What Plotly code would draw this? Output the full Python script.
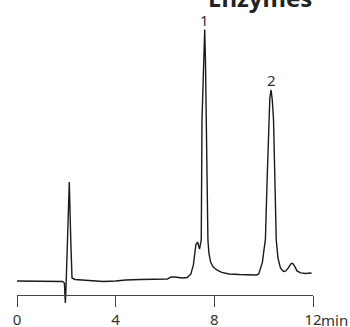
import plotly.graph_objects as go

# Retention time (min) and detector signal (arbitrary units)
time = [0.0, 1.0, 1.85, 1.92, 1.96, 1.99, 2.05, 2.12, 2.18, 2.23, 2.35, 2.6, 3.0, 3.5,
        4.0, 4.4, 5.0, 5.5, 6.1, 6.25, 6.4, 6.7, 6.9, 7.05, 7.15, 7.25, 7.32, 7.40,
        7.47, 7.50, 7.55, 7.61, 7.64, 7.67, 7.74, 7.78, 7.85, 7.95, 8.1, 8.3, 8.6,
        9.0, 9.4, 9.7, 9.8, 9.86, 9.95, 10.0, 10.07, 10.14, 10.2, 10.25, 10.30,
        10.35, 10.4, 10.46, 10.51, 10.58, 10.68, 10.8, 10.9, 11.0, 11.1, 11.17,
        11.25, 11.35, 11.5, 11.7, 11.94]
signal = [0.0, 0.0, -0.2, -0.8, -8.7, -1.6, 20.3, 39.3, 16.3, 1.2, 0.6, 0.4, 0.0, -0.2,
          0.0, 0.4, 0.6, 0.6, 0.8, 1.6, 1.6, 1.2, 1.4, 2.8, 6.4, 14.3, 15.5, 12.7,
          16.3, 64.0, 83.8, 99.9, 87.8, 64.0, 16.3, 11.1, 7.5, 5.6, 4.4, 3.4, 2.8,
          2.6, 2.4, 2.4, 2.8, 4.4, 7.5, 11.5, 16.3, 40.1, 64.0, 72.7, 75.9,
          71.9, 64.0, 40.1, 16.3, 9.1, 5.2, 3.8, 4.0, 5.2, 6.8, 7.0,
          6.0, 4.0, 3.2, 3.0, 3.2]

peak_labels = ["1", "2"]
peak_times = [7.61, 10.30]
peak_label_y = [103.7, 79.9]

tick_vals = [0, 4, 8, 12]
tick_text = ["0", "4", "8", "12"]
title_text = "Enzymes"
unit_text = "min"

FONT = "Noto Sans"
INK = "#333333"

fig = go.Figure()
fig.add_trace(go.Scatter(x=time, y=signal, mode="lines",
                         line=dict(color="#1a1a1a", width=1.4),
                         hoverinfo="skip", showlegend=False))

for lab, t, yv in zip(peak_labels, peak_times, peak_label_y):
    fig.add_annotation(x=t, y=yv, text=lab, showarrow=False,
                       xanchor="center", yanchor="middle",
                       font=dict(family=FONT, size=15, color=INK))

fig.add_annotation(x=12, y=0.0979, xref="x", yref="paper", text=unit_text,
                   showarrow=False, xanchor="left", yanchor="middle",
                   xshift=6, yshift=-25,
                   font=dict(family=FONT, size=15, color=INK))

fig.add_annotation(x=0.8193, y=1.0, xref="paper", yref="paper", text="<b>" + title_text + "</b>",
                   showarrow=False, xanchor="center", yanchor="middle",
                   yshift=3,
                   font=dict(family=FONT, size=24, color="#222222"))

fig.update_layout(
    width=350, height=327,
    margin=dict(l=17, r=37, t=0, b=0),
    paper_bgcolor="white", plot_bgcolor="white",
    xaxis=dict(range=[0, 12], anchor="free", position=0.0979,
               showgrid=False, zeroline=False, showline=True,
               linecolor="#444444", linewidth=1.3,
               ticks="outside", ticklen=11, tickwidth=1.3, tickcolor="#444444",
               tickvals=tick_vals, ticktext=tick_text,
               tickfont=dict(family=FONT, size=15, color=INK),
               automargin=False, fixedrange=True),
    yaxis=dict(range=[-18.28, 111.64], visible=False, fixedrange=True),
)

fig.write_html("out.html")
